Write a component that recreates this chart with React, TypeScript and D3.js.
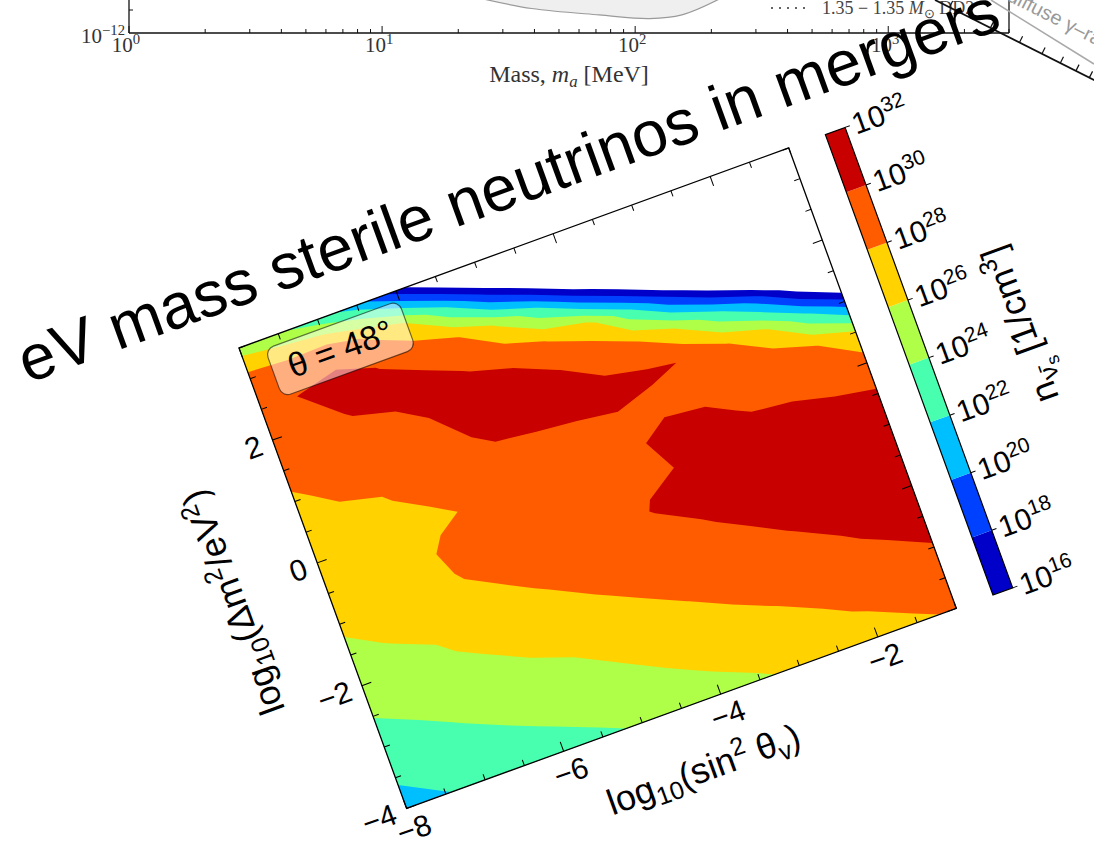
import React from 'react';
import * as d3 from 'd3';

// ---------------- main contour plot data ----------------
const sinGrid = [-8, -7.5, -7, -6.5, -6, -5.5, -5, -4.5, -4, -3.5, -3, -2.5, -2, -1.5, -1];
const dmGrid = [3.5, 3, 2.5, 2, 1.5, 1, 0.5, 0, -0.5, -1, -1.5, -2, -2.5, -3, -3.5, -4];
// log10(n) read column by column (one array per sin^2 value, top to bottom in dm^2)
const logDensityByColumn = [
  [25, 28.8, 29.5, 29.5, 28.3, 27.86, 27.46, 27.05, 26.65, 26.24, 25.66, 24.85, 24.05, 23.14, 22.22, 21.3],
  [24.3, 28.6, 30.05, 29.5, 29.0, 28.2, 27.78, 27.35, 26.92, 26.5, 26.07, 25.31, 24.49, 23.65, 22.79, 21.92],
  [23.0, 29.1, 30.5, 30.1, 29.4, 28.35, 27.9, 27.5, 27.1, 26.7, 26.3, 25.8, 24.96, 24.13, 23.3, 22.48],
  [21.0, 27.72, 29.95, 30.6, 29.3, 28.9, 28.4, 27.7, 28.3, 27.9, 27.1, 26.3, 25.47, 24.6, 23.74, 22.9],
  [17.1, 25.8, 29.3, 30.5, 30.3, 29.5, 29.2, 28.22, 28.8, 28.47, 27.63, 26.8, 25.96, 25.07, 24.17, 23.28],
  [12.7, 22.0, 28.12, 29.9, 31.0, 30.5, 29.18, 29.2, 28.9, 28.6, 28.18, 27.27, 26.36, 25.47, 24.6, 23.73],
  [8.0, 17.5, 25.7, 29.2, 31.0, 30.6, 29.45, 29.4, 29.2, 29.0, 28.73, 27.84, 26.94, 26.04, 25.12, 24.19],
  [3.0, 13.1, 22.5, 27.9, 30.05, 30.5, 29.72, 29.6, 29.4, 29.2, 28.9, 28.35, 27.48, 26.6, 25.72, 24.8],
  [3.0, 8.4, 17.8, 27.0, 29.0, 30.6, 29.85, 29.7, 29.8, 30.1, 29.2, 28.7, 27.98, 27.1, 26.24, 25.32],
  [3.0, 3.5, 13.5, 22.6, 28.1, 30.25, 29.6, 30.5, 30.05, 30.6, 29.82, 29.2, 28.4, 27.67, 26.7, 25.8],
  [3.0, 3.0, 8.7, 18.1, 25.9, 29.9, 29.6, 30.3, 30.8, 30.9, 30.4, 29.5, 28.9, 28.05, 27.2, 26.33],
  [3.0, 3.0, 3.5, 13.8, 22.6, 28.1, 29.2, 29.85, 30.6, 31.0, 31.0, 30.1, 29.0, 28.4, 27.75, 27.0],
  [3.0, 3.0, 3.0, 9.1, 19.0, 26.2, 29.2, 29.7, 30.6, 31.2, 31.2, 30.7, 29.71, 28.9, 28.15, 27.21],
  [3.0, 3.0, 3.0, 4.0, 14.2, 22.6, 28.1, 29.3, 30.4, 31.2, 31.3, 31.0, 30.4, 29.1, 28.6, 27.74],
  [3.0, 3.0, 3.0, 3.0, 9.5, 18.6, 26.2, 28.9, 30.2, 31.0, 31.3, 31.2, 30.8, 29.88, 29.0, 28.2],
];
const contourLevels = [16, 18, 20, 22, 24, 26, 28, 30, 32];
const bandColors = ['#0000c8', '#0040ff', '#00bfff', '#48ffaf', '#afff48', '#ffd200', '#ff5c00', '#c80000'];
const xMajorTicks = [-8, -6, -4, -2];
const yMajorTicks = [-4, -2, 0, 2];
const xDomain = [-8, -1];
const yDomain = [-4, 3.5];
const angleLabel = 'θ = 48°';
const titleText = 'eV mass sterile neutrinos in mergers';

// ---------------- background (upper) chart data ----------------
const massDecades = [1, 10, 100, 1000];
const boundMass = [24, 39, 72, 114, 153, 215];
const boundLimit = [2.9e-12, 2.1e-12, 1.73e-12, 1.55e-12, 1.73e-12, 2.8e-12];
const legendLabel = '1.35 − 1.35 ';

// ---------------- third chart (upper right) ----------------
const gammaTicks = [2, 3, 4, 5, 6, 7, 8, 9, 10];

type Seg = { t: string; s?: 'sub' | 'sup' | 'subsub'; i?: boolean };
function Rich({ segs, fs }: { segs: Seg[]; fs: number }) {
  let cur = 0;
  return (
    <>
      {segs.map((g, k) => {
        const target = g.s === 'sup' ? -0.38 * fs : g.s === 'sub' ? 0.2 * fs : g.s === 'subsub' ? 0.36 * fs : 0;
        const dy = target - cur;
        cur = target;
        const size = g.s === 'subsub' ? 0.5 * fs : g.s ? 0.7 * fs : fs;
        return (
          <tspan key={k} dy={dy} fontSize={size} fontStyle={g.i ? 'italic' : undefined}>
            {g.t}
          </tspan>
        );
      })}
    </>
  );
}

const SANS = '"Liberation Sans", Arial, Helvetica, sans-serif';
const SERIF = '"Liberation Serif", "Times New Roman", serif';

export default function App() {
  const PW = 585;
  const PH = 490;
  const xS = d3.scaleLinear().domain(xDomain).range([0, PW]);
  const yS = d3.scaleLinear().domain(yDomain).range([PH, 0]);

  const nx = sinGrid.length;
  const ny = dmGrid.length;
  const values = dmGrid.flatMap((_, j) => sinGrid.map((__, i) => logDensityByColumn[i][j]));
  const gridX = d3.scaleLinear().domain([0.5, nx - 0.5]).range([sinGrid[0], sinGrid[nx - 1]]);
  const gridY = d3.scaleLinear().domain([0.5, ny - 0.5]).range([dmGrid[0], dmGrid[ny - 1]]);
  const bands = d3.contours().size([nx, ny]).thresholds(contourLevels.slice(0, -1))(values);
  const proj = d3.geoTransform({
    point(px: number, py: number) {
      (this as any).stream.point(xS(gridX(px)), yS(gridY(py)));
    },
  });
  const geoPath = d3.geoPath(proj as any);

  const xMinor = d3.range(-8, -1 + 1e-9, 0.5);
  const yMinor = d3.range(-4, 3.5 + 1e-9, 0.5);
  const isMajor = (v: number) => Math.abs(v / 2 - Math.round(v / 2)) < 1e-9;

  // colorbar
  const cbX = 624;
  const cbW = 21;
  const cbS = d3.scaleLinear().domain([16, 32]).range([PH, 0]);

  const tickFs = 30;
  const labelFs = 36;

  // upper chart scales
  const mS = d3.scaleLog().domain([1, 3000]).range([129, 1009]);
  const fS = d3.scaleLog().domain([1e-12, 1e-11]).range([33, -43]);
  const minorMass = massDecades.slice(0, 3).flatMap((d) => d3.range(2, 10).map((k) => k * d)).concat([2000, 3000]);
  const boundArea = d3
    .area<number>()
    .x((_, k) => mS(boundMass[k]))
    .y0(() => -60)
    .y1((v) => fS(v))
    .curve(d3.curveCatmullRom);

  // third chart axis
  const gS = d3.scaleLog().domain([1, 10]).range([-62, 198]);

  return (
    <svg
      width={1094}
      height={850}
      viewBox="0 0 1094 850"
      style={{ position: 'absolute', left: 0, top: 0, background: '#fff' }}
      fontFamily={SANS}
    >
      <rect x={0} y={0} width={1094} height={850} fill="#fff" />

      {/* ------------- upper background chart ------------- */}
      <g>
        <path d={boundArea(boundLimit) || ''} fill="#efefef" stroke="none" />
        <path
          d={
            d3
              .line<number>()
              .x((_, k) => mS(boundMass[k]))
              .y((v) => fS(v))
              .curve(d3.curveCatmullRom)(boundLimit) || ''
          }
          fill="none"
          stroke="#9a9a9a"
          strokeWidth={1.2}
        />
        <line x1={129} y1={0} x2={129} y2={33} stroke="#111" strokeWidth={1.3} />
        <line x1={1009} y1={0} x2={1009} y2={33} stroke="#111" strokeWidth={1.3} />
        <line x1={129} y1={33} x2={1009} y2={33} stroke="#111" strokeWidth={1.5} />
        <line x1={129} y1={10} x2={133} y2={10} stroke="#111" strokeWidth={1} />
        {massDecades.map((d) => (
          <line key={'M' + d} x1={mS(d)} y1={33} x2={mS(d)} y2={26} stroke="#111" strokeWidth={1} />
        ))}
        {minorMass.map((d) => (
          <line key={'m' + d} x1={mS(d)} y1={33} x2={mS(d)} y2={29} stroke="#111" strokeWidth={1} />
        ))}
        {massDecades.map((d, k) => (
          <text key={'t' + d} x={mS(d) - 3} y={52} textAnchor="middle" fontFamily={SERIF} fontSize={21} fill="#333">
            <Rich segs={[{ t: '10' }, { t: String(k), s: 'sup' }]} fs={21} />
          </text>
        ))}
        <text x={125} y={43} textAnchor="end" fontFamily={SERIF} fontSize={21} fill="#333">
          <Rich segs={[{ t: '10' }, { t: '−12', s: 'sup' }]} fs={21} />
        </text>
        <text x={569} y={82} textAnchor="middle" fontFamily={SERIF} fontSize={24} fill="#333">
          <Rich segs={[{ t: 'Mass, ' }, { t: 'm', i: true }, { t: 'a', s: 'sub', i: true }, { t: ' [MeV]' }]} fs={24} />
        </text>
        <line x1={771} y1={8} x2={806} y2={8} stroke="#333" strokeWidth={1.6} strokeDasharray="2,6" />
        <text x={822} y={14} fontFamily={SERIF} fontSize={18} fill="#444">
          <Rich segs={[{ t: legendLabel }, { t: 'M', i: true }, { t: '⊙', s: 'sub' }, { t: ' DD2' }]} fs={18} />
        </text>
      </g>

      {/* ------------- third chart fragment (upper right) ------------- */}
      <g transform={`translate(935,0) rotate(26.7)`}>
        <line x1={0} y1={0} x2={260} y2={0} stroke="#111" strokeWidth={1.8} />
        {gammaTicks.map((t) => (
          <line key={t} x1={gS(t)} y1={0} x2={gS(t)} y2={t === 10 ? -10 : -7} stroke="#111" strokeWidth={1.2} />
        ))}
        <text x={120} y={-32} fontSize={20} fill="#999" textAnchor="middle">
          diffuse γ–ray
        </text>
      </g>
      <line x1={991} y1={0} x2={1094} y2={64} stroke="#aaa" strokeWidth={1.5} />

      {/* ------------- main rotated contour plot ------------- */}
      <g transform="translate(239,348) rotate(-20)">
        <defs>
          <clipPath id="plotClip">
            <rect x={0} y={0} width={PW} height={PH} />
          </clipPath>
        </defs>
        <g clipPath="url(#plotClip)">
          {bands.map((b, k) => (
            <path key={k} d={geoPath(b as any) || ''} fill={bandColors[k]} fillRule="evenodd" stroke="none" />
          ))}
        </g>
        {/* ticks */}
        {xMinor.map((v) => {
          const L = isMajor(v) ? 10 : 6;
          return (
            <g key={'x' + v}>
              <line x1={xS(v)} y1={PH} x2={xS(v)} y2={PH - L} stroke="#000" strokeWidth={1} />
              <line x1={xS(v)} y1={0} x2={xS(v)} y2={L} stroke="#000" strokeWidth={1} />
            </g>
          );
        })}
        {yMinor.map((v) => {
          const L = isMajor(v) ? 10 : 6;
          return (
            <g key={'y' + v}>
              <line x1={0} y1={yS(v)} x2={L} y2={yS(v)} stroke="#000" strokeWidth={1} />
              <line x1={PW} y1={yS(v)} x2={PW - L} y2={yS(v)} stroke="#000" strokeWidth={1} />
            </g>
          );
        })}
        <rect x={0} y={0} width={PW} height={PH} fill="none" stroke="#000" strokeWidth={1.3} />

        {xMajorTicks.map((v) => (
          <text key={'xl' + v} x={xS(v)} y={PH + 32} textAnchor="middle" fontSize={tickFs}>
            {v < 0 ? '−' + Math.abs(v) : String(v)}
          </text>
        ))}
        {yMajorTicks.map((v) => (
          <text key={'yl' + v} x={-12} y={yS(v) + 0.36 * tickFs} textAnchor="end" fontSize={tickFs}>
            {v < 0 ? '−' + Math.abs(v) : String(v)}
          </text>
        ))}
        <text x={PW / 2} y={PH + 77} textAnchor="middle" fontSize={labelFs}>
          <Rich
            segs={[{ t: 'log' }, { t: '10', s: 'sub' }, { t: '(sin' }, { t: '2', s: 'sup' }, { t: ' θ' }, { t: 'v', s: 'sub' }, { t: ')' }]}
            fs={labelFs}
          />
        </text>
        <text transform={`translate(-80,${PH / 2 - 8}) rotate(-90)`} textAnchor="middle" fontSize={labelFs}>
          <Rich
            segs={[{ t: 'log' }, { t: '10', s: 'sub' }, { t: '(Δm' }, { t: '2', s: 'sup' }, { t: '/eV' }, { t: '2', s: 'sup' }, { t: ')' }]}
            fs={labelFs}
          />
        </text>

        {/* angle box */}
        <rect x={24} y={10} width={142} height={51} rx={9} fill="#fff" fillOpacity={0.5} stroke="#000" strokeOpacity={0.55} strokeWidth={1.2} />
        <text x={95} y={47} textAnchor="middle" fontSize={34}>
          {angleLabel}
        </text>

        {/* colorbar */}
        {bandColors.map((c, k) => (
          <rect key={'cb' + k} x={cbX} y={cbS(contourLevels[k + 1])} width={cbW} height={cbS(contourLevels[k]) - cbS(contourLevels[k + 1])} fill={c} />
        ))}
        <rect x={cbX} y={0} width={cbW} height={PH} fill="none" stroke="#000" strokeWidth={1.2} />
        {contourLevels.map((v) => (
          <g key={'cbt' + v}>
            <line x1={cbX + cbW} y1={cbS(v)} x2={cbX + cbW + 5} y2={cbS(v)} stroke="#000" strokeWidth={1} />
            <text x={cbX + cbW + 8} y={cbS(v) + 0.36 * tickFs} fontSize={tickFs}>
              <Rich segs={[{ t: '10' }, { t: String(v), s: 'sup' }]} fs={tickFs} />
            </text>
          </g>
        ))}
        <text transform={`translate(754,${PH / 2}) rotate(-90)`} textAnchor="middle" fontSize={labelFs}>
          <Rich
            segs={[{ t: 'n' }, { t: 'ν̄', s: 'sub' }, { t: 's', s: 'subsub' }, { t: ' [1/cm' }, { t: '3', s: 'sup' }, { t: ']' }]}
            fs={labelFs}
          />
        </text>

        {/* title */}
        <text x={PW / 2 + 16} y={-39} textAnchor="middle" fontSize={64} fill="#000">
          {titleText}
        </text>
      </g>
    </svg>
  );
}
